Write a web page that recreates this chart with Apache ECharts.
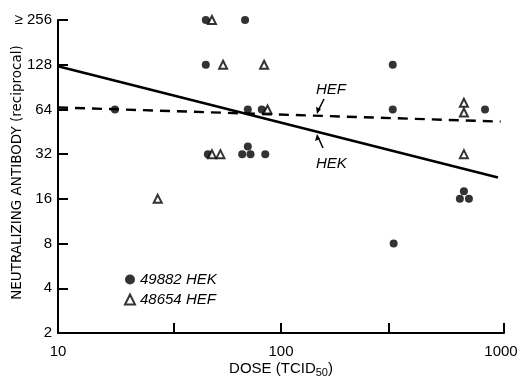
<!DOCTYPE html>
<html>
<head>
<meta charset="utf-8">
<script src="https://cdn.jsdelivr.net/npm/echarts@6/dist/echarts.min.js"></script>
<style>
  html, body {margin: 0; padding: 0; background: #fff;}
  #chart {width: 517px; height: 376px;}
</style>
</head>
<body>
<div id="chart"></div>
<script>
// dose (TCID50) vs neutralizing antibody titer
const hekDose = [18, 46, 69, 46, 71, 82, 47, 71, 67, 73, 85, 317, 317, 320, 661, 634, 696, 822]
const hekTiter = [64, 256, 256, 128, 64, 64, 32, 36, 32, 32, 32, 128, 64, 8, 18, 16, 16, 64]
const hefDose = [28, 49, 55, 84, 87, 49, 53.5, 661, 661, 661]
const hefTiter = [16, 256, 128, 128, 64, 32, 32, 71, 61, 32]

// fitted lines
const hekFitDose = [10, 940]
const hekFitTiter = [125, 22.3]
const hefFitDose = [10, 966]
const hefFitTiter = [66, 53]

const xTickValues = [10, 33, 100, 305, 1000]
const xTickLabels = ['10', '100', '1000']
const yTickLabels = ['2', '4', '8', '16', '32', '64', '128', '≥ 256']
const legendNames = ['49882 HEK', '48654 HEF']

const font = "'Liberation Sans', Arial, sans-serif"
const ink = '#000'

const zip = (xs, ys) => xs.map((x, i) => [x, ys[i]])

const chart = echarts.init(document.getElementById('chart'), null, {renderer: 'canvas'})

const axisLine = {show: true, lineStyle: {color: ink, width: 2}}
const tickStyle = {color: ink, width: 2}

const option = {
  backgroundColor: '#fff',
  animation: false,
  grid: {left: 58, right: 13, top: 20, bottom: 43, outerBoundsMode: 'none'},
  legend: {
    orient: 'vertical',
    left: 119,
    top: 267,
    itemWidth: 10,
    itemHeight: 10,
    itemGap: 5,
    data: legendNames,
    textStyle: {fontFamily: font, fontStyle: 'italic', fontSize: 15, color: ink},
  },
  xAxis: {
    type: 'log',
    logBase: 10,
    min: 10,
    max: 1000,
    axisLine,
    splitLine: {show: false},
    axisTick: {show: true, inside: true, length: 10, lineStyle: tickStyle, customValues: xTickValues},
    axisLabel: {
      margin: 11,
      fontFamily: font,
      fontSize: 15,
      color: ink,
      formatter: v => {
        const i = Math.round(Math.log10(v)) - 1
        return i === 2 ? '{r|' + xTickLabels[i] + '}' : xTickLabels[i]
      },
      rich: {r: {fontFamily: font, fontSize: 15, color: ink, padding: [0, 6, 0, 0]}},
    },
    name: '{a|DOSE (TCID}{s|50}{a|)}',
    nameLocation: 'middle',
    nameGap: 27,
    nameMoveOverlap: false,
    nameTextStyle: {
      rich: {
        a: {fontFamily: font, fontSize: 15, color: ink},
        s: {fontFamily: font, fontSize: 11, color: ink, verticalAlign: 'bottom', padding: [7, 0, 0, 0]},
      },
    },
  },
  yAxis: {
    type: 'log',
    logBase: 2,
    min: 2,
    max: 256,
    splitNumber: 7,
    axisLine,
    splitLine: {show: false},
    axisTick: {show: true, inside: true, length: 10, lineStyle: tickStyle},
    axisLabel: {
      margin: 6,
      fontFamily: font,
      fontSize: 15,
      color: ink,
      formatter: v => yTickLabels[Math.round(Math.log2(v)) - 1],
    },
    name: 'NEUTRALIZING ANTIBODY (reciprocal)',
    nameLocation: 'middle',
    nameGap: 34,
    nameMoveOverlap: false,
    nameTextStyle: {fontFamily: "'DejaVu Sans', sans-serif", fontSize: 13.5, color: ink, padding: [0, 0, 0, 8]},
  },
  series: [
    {
      name: legendNames[0],
      type: 'scatter',
      symbol: 'circle',
      symbolSize: 8,
      itemStyle: {color: ink},
      data: zip(hekDose, hekTiter),
      z: 5,
    },
    {
      name: legendNames[1],
      type: 'scatter',
      symbol: 'triangle',
      symbolSize: 8,
      itemStyle: {color: '#fff', borderColor: ink, borderWidth: 2},
      data: zip(hefDose, hefTiter),
      z: 5,
    },
    {
      name: 'HEK fit',
      type: 'line',
      symbol: 'none',
      lineStyle: {color: ink, width: 2.6},
      data: zip(hekFitDose, hekFitTiter),
    },
    {
      name: 'HEF fit',
      type: 'line',
      symbol: 'none',
      lineStyle: {color: ink, width: 2.4, type: [10, 7]},
      data: zip(hefFitDose, hefFitTiter),
    },
  ],
  graphic: [
    {type: 'text', left: 316, top: 82, style: {text: 'HEF', fontFamily: font, fontStyle: 'italic', fontSize: 15, fill: ink}},
    {type: 'line', shape: {x1: 324, y1: 99, x2: 318, y2: 111}, style: {stroke: ink, lineWidth: 1.5}},
    {type: 'polygon', shape: {points: [[317, 114], [316, 107], [321, 109]]}, style: {fill: ink}},
    {type: 'text', left: 316, top: 156, style: {text: 'HEK', fontFamily: font, fontStyle: 'italic', fontSize: 15, fill: ink}},
    {type: 'line', shape: {x1: 323, y1: 148, x2: 318, y2: 137}, style: {stroke: ink, lineWidth: 1.5}},
    {type: 'polygon', shape: {points: [[317, 134], [315, 141], [320, 139]]}, style: {fill: ink}},
  ],
}

chart.setOption(option)
</script>
</body>
</html>
